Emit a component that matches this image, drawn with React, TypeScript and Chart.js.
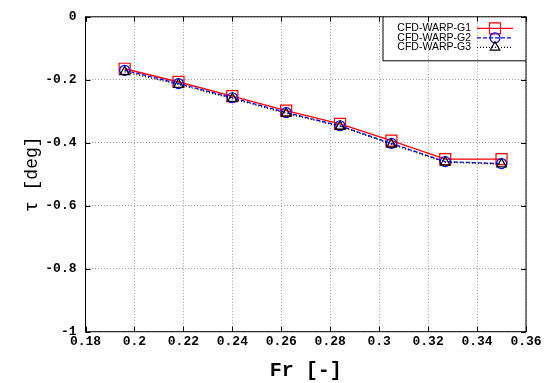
import React, { useEffect, useRef } from "react";
import { Chart, registerables } from "chart.js";

Chart.register(...registerables);

const frValues = [0.196, 0.218, 0.24, 0.262, 0.284, 0.305, 0.327, 0.35];
const tauG1 = [-0.165, -0.207, -0.252, -0.298, -0.34, -0.393, -0.452, -0.452];
const tauG2 = [-0.17, -0.212, -0.257, -0.304, -0.346, -0.402, -0.46, -0.466];
const tauG3 = [-0.175, -0.215, -0.26, -0.307, -0.348, -0.405, -0.462, -0.468];
const seriesNames = ["CFD-WARP-G1", "CFD-WARP-G2", "CFD-WARP-G3"];
const xTickLabels = ["0.18", "0.2", "0.22", "0.24", "0.26", "0.28", "0.3", "0.32", "0.34", "0.36"];
const yTickLabels = ["-1", "-0.8", "-0.6", "-0.4", "-0.2", "0"];
const xTitle = "Fr [-]";
const yTitle = "τ [deg]";

const COLORS = ["#ff0000", "#0000ff", "#000000"];
const DASHES: number[][] = [[], [4, 2], [1, 2]];
const STYLES = ["rect", "circle", "triangle"];

function drawMarker(ctx: CanvasRenderingContext2D, style: string, x: number, y: number) {
  ctx.beginPath();
  if (style === "rect") {
    ctx.rect(x - 5.5, y - 5.5, 11, 11);
  } else if (style === "circle") {
    ctx.arc(x, y, 5, 0, Math.PI * 2);
  } else {
    const r = 5.5;
    ctx.moveTo(x, y - r);
    ctx.lineTo(x + r * 0.866, y + r * 0.5);
    ctx.lineTo(x - r * 0.866, y + r * 0.5);
    ctx.closePath();
  }
  ctx.stroke();
}

const framePlugin = {
  id: "frame",
  afterDraw(chart: any) {
    const { ctx, chartArea: a, scales } = chart;
    const x = scales.x;
    const y = scales.y;
    ctx.save();
    ctx.setLineDash([]);
    ctx.strokeStyle = "#000";
    ctx.lineWidth = 1;
    ctx.beginPath();
    x.ticks.forEach((t: any) => {
      const px = Math.round(x.getPixelForValue(t.value)) + 0.5;
      ctx.moveTo(px, a.bottom);
      ctx.lineTo(px, a.bottom - 5);
      ctx.moveTo(px, a.top);
      ctx.lineTo(px, a.top + 5);
    });
    y.ticks.forEach((t: any) => {
      const py = Math.round(y.getPixelForValue(t.value)) + 0.5;
      ctx.moveTo(a.left, py);
      ctx.lineTo(a.left + 5, py);
      ctx.moveTo(a.right, py);
      ctx.lineTo(a.right - 5, py);
    });
    ctx.stroke();
    ctx.strokeRect(a.left, a.top, a.right - a.left, a.bottom - a.top);

    // legend
    const boxL = a.right - 143;
    const boxB = a.top + 44;
    ctx.beginPath();
    ctx.moveTo(boxL, a.top);
    ctx.lineTo(boxL, boxB);
    ctx.lineTo(a.right, boxB);
    ctx.stroke();
    ctx.font = "10.5px 'Liberation Sans', Arial, sans-serif";
    ctx.textAlign = "right";
    ctx.textBaseline = "middle";
    ctx.fillStyle = "#000";
    const rows = [a.top + 11.5, a.top + 21, a.top + 30.5];
    seriesNames.forEach((name, i) => {
      const ry = rows[i];
      ctx.fillText(name, a.right - 55, ry);
      ctx.strokeStyle = COLORS[i];
      ctx.lineWidth = 1.2;
      ctx.setLineDash(DASHES[i]);
      ctx.beginPath();
      ctx.moveTo(a.right - 49, ry);
      ctx.lineTo(a.right - 13, ry);
      ctx.stroke();
      ctx.setLineDash([]);
      drawMarker(ctx, STYLES[i], a.right - 31, ry);
    });
    ctx.restore();
  },
};

export default function App() {
  const ref = useRef<HTMLCanvasElement | null>(null);

  useEffect(() => {
    document.body.style.margin = "0";
    const canvas = ref.current;
    if (!canvas) return;
    const series = [tauG1, tauG2, tauG3];
    const radii = [7.8, 5, 5.5];
    const datasets = series.map((vals, i) => ({
      label: seriesNames[i],
      data: frValues.map((fr, k) => ({ x: fr, y: vals[k] })),
      showLine: true,
      borderColor: COLORS[i],
      borderWidth: i === 0 ? 1.4 : 1.2,
      borderDash: DASHES[i],
      pointStyle: STYLES[i],
      pointRadius: radii[i],
      pointBorderColor: COLORS[i],
      pointBorderWidth: 1.2,
      pointBackgroundColor: "rgba(0,0,0,0)",
      fill: false,
      order: 2 - i,
    }));

    const tickFont = { family: "'Liberation Mono', 'Courier New', monospace", size: 13, weight: "bold" as const };

    const chart = new Chart(canvas, {
      type: "scatter",
      data: { datasets },
      options: {
        responsive: false,
        animation: false,
        events: [],
        layout: { padding: { top: 12.7, right: 31, bottom: 0, left: 0 } },
        plugins: { legend: { display: false }, tooltip: { enabled: false } },
        scales: {
          x: {
            type: "linear",
            min: 0.18,
            max: 0.36,
            afterFit: (s: any) => {
              s.height = 51.3;
            },
            ticks: {
              stepSize: 0.02,
              autoSkip: false,
              maxRotation: 0,
              minRotation: 0,
              padding: 2,
              color: "#000",
              font: tickFont,
              callback: (v: any) => xTickLabels[Math.round((Number(v) - 0.18) / 0.02)] ?? "",
            },
            grid: { color: "#9a9a9a", lineWidth: 1, drawTicks: false },
            border: { display: false, dash: [1, 2] },
            title: {
              display: true,
              text: xTitle,
              color: "#000",
              font: { family: "'Liberation Mono', 'Courier New', monospace", size: 20, weight: "bold" },
              padding: { top: 0, bottom: 0 },
            },
          },
          y: {
            type: "linear",
            min: -1,
            max: 0,
            afterFit: (s: any) => {
              s.width = 85.5;
            },
            ticks: {
              stepSize: 0.2,
              padding: 9,
              color: "#000",
              font: tickFont,
              callback: (v: any) => yTickLabels[Math.round((Number(v) + 1) / 0.2)] ?? "",
            },
            grid: { color: "#9a9a9a", lineWidth: 1, drawTicks: false },
            border: { display: false, dash: [1, 2] },
            title: {
              display: true,
              text: yTitle,
              color: "#000",
              font: { family: "'Liberation Mono', 'Courier New', monospace", size: 18, weight: "normal" },
              padding: { top: 21, bottom: 0 },
            },
          },
        },
      },
      plugins: [framePlugin],
    });
    return () => chart.destroy();
  }, []);

  return (
    <div style={{ position: "absolute", left: 0, top: 0, width: 557, height: 383, background: "#fff" }}>
      <canvas ref={ref} width={557} height={383} />
    </div>
  );
}
